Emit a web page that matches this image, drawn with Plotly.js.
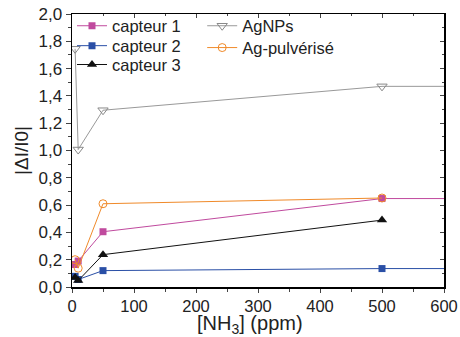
<!DOCTYPE html>
<html><head><meta charset="utf-8">
<script src="https://cdn.plot.ly/plotly-3.0.1.min.js"></script>
<style>body{margin:0;padding:0;background:#fff}#chart{width:460px;height:337px}</style>
</head><body><div id="chart"></div>
<script>
const nh3 = [5, 10, 50, 500];
const nh3Ext = [5, 10, 50, 500, 1000];
const capteur1 = [0.165, 0.19, 0.405, 0.648, 0.648];
const capteur2 = [0.078, 0.055, 0.12, 0.135, 0.135];
const capteur3 = [0.07, 0.047, 0.237, 0.49];
const agNPs = [1.745, 1.007, 1.295, 1.47, 1.47];
const agPulv = [0.2, 0.138, 0.61, 0.652];
const xTitle = '[NH<sub>3</sub>] (ppm)';
const yTitle = '|ΔI/I0|';

const font = "Liberation Sans, Arial, sans-serif";
const traces = [
  {x: nh3Ext, y: capteur1, name: 'capteur 1', mode: 'lines+markers', legend: 'legend',
   line: {color: '#c04a9e', width: 1}, marker: {symbol: 'square', size: 7, color: '#c04a9e'}},
  {x: nh3Ext, y: capteur2, name: 'capteur 2', mode: 'lines+markers', legend: 'legend2',
   line: {color: '#2a4fa6', width: 1}, marker: {symbol: 'square', size: 7, color: '#2a4fa6'}},
  {x: nh3, y: capteur3, name: 'capteur 3', mode: 'lines+markers', legend: 'legend3',
   line: {color: '#111', width: 1}, marker: {symbol: 'triangle-up', size: 9, color: '#111'}},
  {x: nh3Ext, y: agNPs, name: 'AgNPs', mode: 'lines+markers', legend: 'legend4',
   line: {color: '#999', width: 1}, marker: {symbol: 'triangle-down-open', size: 9, color: '#888'}},
  {x: nh3, y: agPulv, name: 'Ag-pulvérisé', mode: 'lines+markers', legend: 'legend5',
   line: {color: '#f08a2a', width: 1}, marker: {symbol: 'circle-open', size: 8, color: '#f08a2a'}}
];

function leg(x, y) {
  return {x: x, y: y, xanchor: 'left', yanchor: 'middle', bgcolor: 'rgba(0,0,0,0)',
    font: {size: 16.5, family: font, color: '#222'}, itemwidth: 30};
}

const layout = {
  width: 460, height: 337,
  margin: {l: 72, r: 16, t: 14, b: 50, autoexpand: false},
  separators: ', ',
  paper_bgcolor: '#fff', plot_bgcolor: '#fff',
  font: {family: font, color: '#222', size: 16},
  showlegend: true,
  xaxis: {range: [0, 600], dtick: 100, tick0: 0, ticks: 'outside', ticklen: 4, tickwidth: 1,
    showline: true, linecolor: '#000', linewidth: 1.5, mirror: true, showgrid: false, zeroline: false,
    minor: {dtick: 50, ticks: 'outside', ticklen: 3, showgrid: false},
    tickfont: {size: 16.5, family: font, color: '#222'}},
  yaxis: {range: [0, 2], dtick: 0.2, tick0: 0, tickformat: '.1f', ticks: 'outside', ticklen: 5, tickwidth: 1,
    showline: true, linecolor: '#000', linewidth: 1.5, mirror: true, showgrid: false, zeroline: false,
    minor: {dtick: 0.1, ticks: 'outside', ticklen: 3, showgrid: false},
    tickfont: {size: 17, family: font, color: '#222'},
    title: {text: yTitle, font: {size: 19, family: font, color: '#222'}, standoff: 5}},
  xaxis2: {overlaying: 'x', matches: 'x', side: 'top', range: [0, 600], dtick: 100, ticks: 'inside', ticklen: 4,
    showticklabels: false, showgrid: false, zeroline: false, showline: false,
    minor: {dtick: 50, ticks: 'inside', ticklen: 2}},
  yaxis2: {overlaying: 'y', matches: 'y', side: 'right', range: [0, 2], dtick: 0.2, ticks: 'inside', ticklen: 4,
    showticklabels: false, showgrid: false, zeroline: false, showline: false,
    minor: {dtick: 0.1, ticks: 'inside', ticklen: 2}},
  annotations: [{text: xTitle, xref: 'paper', yref: 'paper', x: 0.479, y: -0.088,
    xanchor: 'center', yanchor: 'top', showarrow: false, borderpad: 0,
    font: {size: 20, family: font, color: '#222'}}],
  legend: leg(0.0, 0.956),
  legend2: leg(0.0, 0.883),
  legend3: leg(0.0, 0.814),
  legend4: leg(0.35, 0.956),
  legend5: leg(0.35, 0.876)
};
traces.push({x: [0], y: [0], xaxis: 'x2', yaxis: 'y2', showlegend: false, hoverinfo: 'skip',
  mode: 'markers', marker: {opacity: 0}});
Plotly.newPlot('chart', traces, layout, {displayModeBar: false, staticPlot: true});
</script></body></html>
